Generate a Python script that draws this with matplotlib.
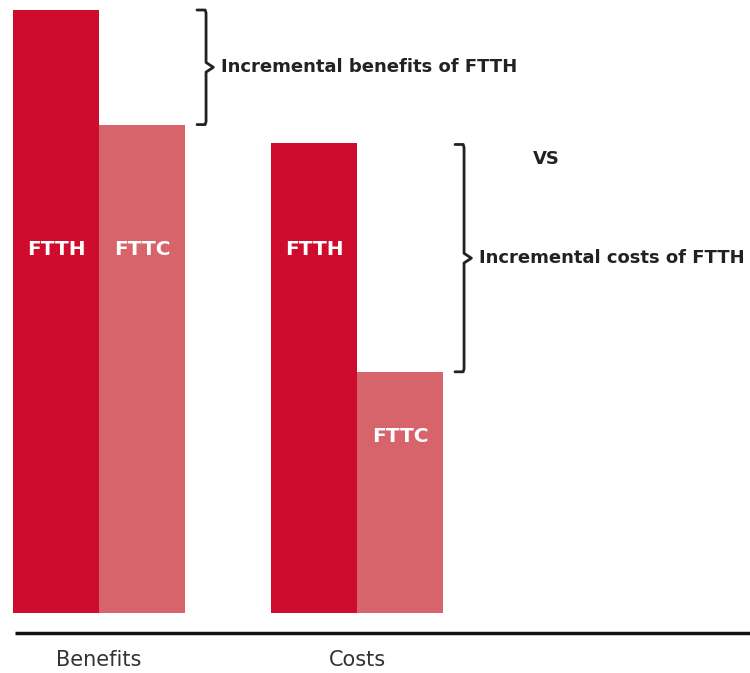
import matplotlib.pyplot as plt

# bar values (FTTH benefits scaled to 100)
groups = ["Benefits", "Costs"]
series = ["FTTH", "FTTC"]
ftth = [100, 78]
fttc = [81, 40]
notes = ["Incremental benefits of FTTH", "Incremental costs of FTTH"]

c_ftth = "#D00C2E"
c_fttc = "#D6646A"

plt.rcParams['font.family'] = ['DejaVu Sans']

fig = plt.figure(figsize=(7.5, 6.73), dpi=100)
ax = fig.add_axes([0, 0, 1, 1])
ax.set_xlim(-0.651, 8.07)
ax.set_ylim(-9.95, 101.66)
ax.axis("off")

for g in range(len(groups)):
    x0 = g * 3
    ax.bar(x0, ftth[g], width=1.0, color=c_ftth, linewidth=0)
    ax.bar(x0 + 1, fttc[g], width=1.0, color=c_fttc, linewidth=0)

    # labels inside bars
    ax.text(x0, 60.3, series[0], color="white", fontsize=14.5, fontweight="bold",
            ha="center", va="center")
    y_c = 60.3 if fttc[g] > 70 else fttc[g] - 10.8
    ax.text(x0 + 1, y_c, series[1], color="white", fontsize=14.5, fontweight="bold",
            ha="center", va="center")

    # category label under axis
    ax.text(x0 + 0.5, -7.8, groups[g], color="#333333", fontsize=15,
            ha="center", va="center")

    # curly brace between the FTTH and FTTC tops
    top, bot = ftth[g], fttc[g]
    if g == 1:
        top = ftth[g] - 0.3
    xb = x0 + 1.5 + 0.2
    xs = xb + 0.045
    mid = (top + bot) / 2
    ax.plot([xb - 0.06, xs - 0.01, xs, xs, xs + 0.085, xs, xs, xs - 0.01, xb - 0.06],
            [top, top, top - 0.5, mid + 0.8, mid, mid - 0.8, bot + 0.5, bot, bot],
            color="#222222", lw=2, solid_joinstyle="round", solid_capstyle="round")
    ax.text(xs + 0.17, mid, notes[g], color="#222222", fontsize=13,
            fontweight="bold", ha="left", va="center")

ax.text(5.7, 75.3, "VS", color="#222222", fontsize=13, fontweight="bold",
        ha="center", va="center")

# baseline
ax.plot([-0.48, 8.1], [-3.3, -3.3], color="#111111", lw=2.5, solid_capstyle="butt")

fig.savefig("out.png", dpi=100)
